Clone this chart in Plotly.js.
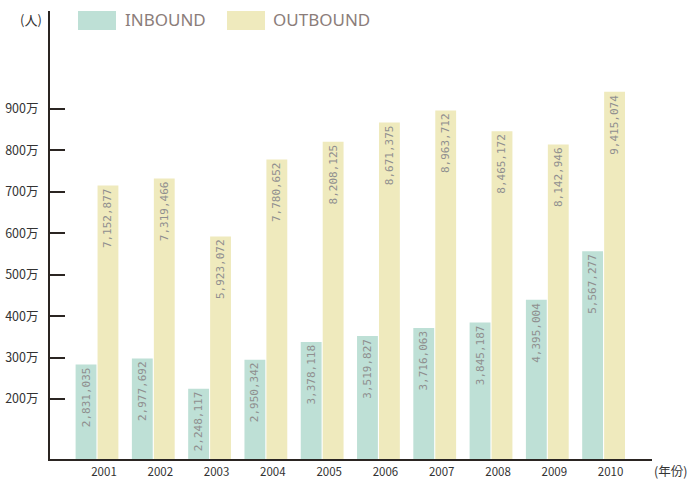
<!DOCTYPE html>
<html>
<head>
<meta charset="utf-8">
<script src="https://cdn.plot.ly/plotly-3.0.1.min.js"></script>
<style>html,body{margin:0;padding:0;background:#fff;}#chart{width:696px;height:479px;}</style>
</head>
<body>
<div id="chart"></div>
<script>
const years = ['2001','2002','2003','2004','2005','2006','2007','2008','2009','2010'];
const inbound = [2831035, 2977692, 2248117, 2950342, 3378118, 3519827, 3716063, 3845187, 4395004, 5567277];
const outbound = [7152877, 7319466, 5923072, 7780652, 8208125, 8671375, 8963712, 8465172, 8142946, 9415074];
const yTickVals = [2000000, 3000000, 4000000, 5000000, 6000000, 7000000, 8000000, 9000000];
const yTickText = ['200万','300万','400万','500万','600万','700万','800万','900万'];
const seriesNames = ['INBOUND', 'OUTBOUND'];
const colors = ['#bee0d6', '#efeabd'];

const fmt = v => v.toLocaleString('en-US');
const textFont = {family: '"DejaVu Sans Mono", monospace', size: 11, color: '#8f8f8f'};

function barTrace(name, vals, color) {
  return {
    type: 'bar', name: name, x: years, y: vals,
    marker: {color: color, line: {width: 0}},
    text: vals.map(fmt), textposition: 'inside', insidetextanchor: 'end',
    textangle: -90, textfont: textFont, constraintext: 'none',
    hoverinfo: 'x+y', cliponaxis: true
  };
}

const data = [
  barTrace(seriesNames[0], inbound, colors[0]),
  barTrace(seriesNames[1], outbound, colors[1])
];

const labelFont = {family: '"Noto Sans CJK JP", "Noto Sans", sans-serif', size: 12.5, color: '#333'};
const legendFont = {family: '"Noto Sans", sans-serif', size: 17, color: '#8b7d7a'};

const layout = {
  width: 696, height: 479,
  margin: {l: 50, r: 44, t: 11, b: 20, pad: 0},
  paper_bgcolor: '#fff', plot_bgcolor: '#fff',
  showlegend: false,
  barmode: 'group', bargap: 0.22, bargroupgap: 0.05,
  xaxis: {
    type: 'category', range: [-0.835, 9.86],
    showline: true, linecolor: '#2b2522', linewidth: 2,
    ticks: '', showgrid: false, zeroline: false,
    tickfont: {family: '"Noto Sans CJK JP", sans-serif', size: 11.5, color: '#333'},
    ticklabelshift: 7, ticklabelstandoff: 1, fixedrange: true
  },
  yaxis: {
    range: [552000, 11365000],
    showline: true, linecolor: '#2b2522', linewidth: 2,
    ticks: 'inside', ticklen: 15, tickwidth: 2, tickcolor: '#2b2522',
    tickvals: yTickVals, ticktext: yTickText, tickfont: labelFont,
    showgrid: false, zeroline: false, fixedrange: true, ticklabelstandoff: 7
  },
  shapes: [
    {type: 'rect', xref: 'paper', yref: 'paper', x0: (78-50)/602, x1: (116-50)/602, y0: (459-30)/448, y1: (459-11)/448, fillcolor: colors[0], line: {width: 0}},
    {type: 'rect', xref: 'paper', yref: 'paper', x0: (227-50)/602, x1: (265-50)/602, y0: (459-30)/448, y1: (459-11)/448, fillcolor: colors[1], line: {width: 0}}
  ],
  annotations: [
    {xref: 'paper', yref: 'paper', x: (123-50)/602, y: (459-20)/448, xanchor: 'left', yanchor: 'middle', text: seriesNames[0], showarrow: false, font: legendFont},
    {xref: 'paper', yref: 'paper', x: (271-50)/602, y: (459-20)/448, xanchor: 'left', yanchor: 'middle', text: seriesNames[1], showarrow: false, font: legendFont},
    {xref: 'paper', yref: 'paper', x: (44-50)/602, y: (459-19)/448, xanchor: 'right', yanchor: 'middle', text: '(人)', showarrow: false, font: {family: '"Noto Sans CJK JP", sans-serif', size: 13, color: '#333'}},
    {xref: 'paper', yref: 'paper', x: (689-50)/602, y: (459-471)/448, xanchor: 'right', yanchor: 'middle', text: '(年份)', showarrow: false, font: {family: '"Noto Sans CJK JP", sans-serif', size: 12.5, color: '#333'}}
  ]
};

Plotly.newPlot('chart', data, layout, {displayModeBar: false, staticPlot: true});
</script>
</body>
</html>
